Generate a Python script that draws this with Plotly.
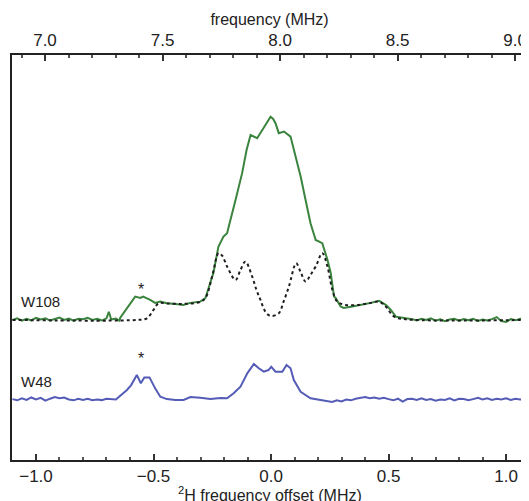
import plotly.graph_objects as go

# W108 experimental spectrum (x: 2H frequency offset MHz, y: normalized intensity)
w108_x = [-1.10, -1.08, -1.06, -1.04, -1.02, -1.00, -0.98, -0.96, -0.94, -0.92, -0.90, -0.88,
          -0.86, -0.84, -0.82, -0.80, -0.78, -0.76, -0.74, -0.72, -0.70, -0.69, -0.68, -0.66,
          -0.645, -0.642, -0.599, -0.578, -0.556, -0.544, -0.514, -0.493, -0.471, -0.443, -0.407,
          -0.373, -0.343, -0.301, -0.279, -0.245, -0.229, -0.224, -0.203, -0.187, -0.151, -0.123,
          -0.104, -0.087, -0.059, -0.038, -0.016, -0.002, 0.009, 0.019, 0.033, 0.055, 0.083,
          0.104, 0.126, 0.147, 0.168, 0.190, 0.218, 0.240, 0.254, 0.268, 0.275, 0.296, 0.309,
          0.346, 0.389, 0.424, 0.460, 0.488, 0.510, 0.531, 0.574, 0.60, 0.62, 0.64, 0.66, 0.68,
          0.70, 0.72, 0.74, 0.76, 0.78, 0.80, 0.82, 0.84, 0.86, 0.88, 0.90, 0.92, 0.94, 0.96,
          0.98, 1.00, 1.02, 1.04, 1.06, 1.08, 1.09]
w108_y = [0.000, 0.008, -0.004, 0.006, -0.002, 0.010, 0.002, 0.008, -0.003, 0.005, 0.012, 0.000,
          0.007, -0.004, 0.006, 0.003, 0.010, 0.000, 0.006, -0.003, 0.008, 0.040, 0.002, 0.007,
          -0.004, 0.010, 0.084, 0.115, 0.108, 0.115, 0.099, 0.084, 0.090, 0.082, 0.079,
          0.074, 0.084, 0.090, 0.108, 0.232, 0.329, 0.360, 0.409, 0.427, 0.591, 0.723,
          0.837, 0.911, 0.895, 0.936, 0.977, 1.001, 0.990, 0.969, 0.920, 0.928, 0.903,
          0.813, 0.706, 0.591, 0.476, 0.394, 0.378, 0.296, 0.232, 0.115, 0.108, 0.066, 0.059,
          0.066, 0.074, 0.084, 0.094, 0.074, 0.049, 0.016, 0.008, 0.004, -0.003, 0.006, 0.000, 0.008,
          -0.004, 0.003, -0.006, 0.002, 0.006, -0.004, 0.004, -0.002, 0.005, -0.005, 0.002, -0.003,
          0.004, 0.014, -0.006, -0.010, 0.004, -0.002, 0.006, 0.000, 0.003]

# W108 simulated spectrum (dotted)
sim_x = [-1.10, -0.571, -0.528, -0.500, -0.478, -0.443, -0.373, -0.301, -0.279, -0.249, -0.223,
         -0.207, -0.187, -0.151, -0.130, -0.109, -0.080, -0.062, -0.045, -0.023, -0.002, 0.033,
         0.053, 0.076, 0.107, 0.126, 0.147, 0.168, 0.190, 0.218, 0.240, 0.261, 0.282, 0.318,
         0.374, 0.424, 0.460, 0.488, 0.524, 0.574, 1.09]
sim_y = [0.000, 0.000, 0.008, 0.049, 0.082, 0.081, 0.079, 0.089, 0.108, 0.222, 0.329,
         0.315, 0.263, 0.197, 0.246, 0.287, 0.213, 0.148, 0.099, 0.039, 0.020, 0.033,
         0.089, 0.164, 0.279, 0.236, 0.189, 0.222, 0.263, 0.329, 0.263, 0.148, 0.090, 0.074,
         0.074, 0.084, 0.090, 0.066, 0.016, 0.003, 0.000]

# W48 experimental spectrum
w48_x = [-1.10, -1.08, -1.06, -1.04, -1.02, -1.00, -0.98, -0.96, -0.94, -0.92, -0.90, -0.88,
         -0.86, -0.84, -0.82, -0.80, -0.78, -0.76, -0.74, -0.72, -0.70, -0.68, -0.66, -0.613,
         -0.595, -0.571, -0.554, -0.539, -0.517, -0.493, -0.471, -0.443, -0.407, -0.372, -0.343,
         -0.301, -0.258, -0.215, -0.187, -0.159, -0.130, -0.101, -0.073, -0.052, -0.031, -0.011,
         0.001, 0.019, 0.048, 0.066, 0.083, 0.097, 0.126, 0.168, 0.203, 0.240, 0.26, 0.28,
         0.30, 0.32, 0.34, 0.36, 0.38, 0.40, 0.42, 0.44, 0.46, 0.48, 0.50, 0.52, 0.54, 0.56,
         0.58, 0.60, 0.62, 0.64, 0.66, 0.68, 0.70, 0.72, 0.74, 0.76, 0.78, 0.80, 0.82, 0.84,
         0.86, 0.88, 0.90, 0.92, 0.94, 0.96, 0.98, 1.00, 1.02, 1.04, 1.06, 1.08, 1.09]
w48_y = [0.002, -0.004, 0.006, -0.002, 0.010, 0.000, 0.008, -0.006, 0.004, 0.012, 0.006, 0.010,
         0.000, -0.004, 0.004, -0.002, 0.003, -0.004, 0.000, -0.003, 0.004, 0.002, 0.000, 0.047,
         0.071, 0.121, 0.080, 0.109, 0.109, 0.055, 0.014, 0.002, -0.002, -0.002, 0.012,
         0.009, 0.002, 0.007, 0.006, 0.031, 0.063, 0.129, 0.175, 0.154, 0.137, 0.145,
         0.161, 0.137, 0.137, 0.170, 0.154, 0.096, 0.038, 0.006, -0.002, -0.011, -0.012, -0.004,
         -0.010, 0.000, -0.004, 0.004, 0.008, 0.012, 0.006, 0.010, 0.004, 0.008, 0.002, -0.004,
         0.004, -0.010, 0.002, 0.004, -0.002, 0.006, -0.002, 0.002, -0.006, 0.000, -0.002, 0.006,
         -0.004, 0.004, 0.002, -0.004, 0.002, 0.008, 0.000, 0.006, -0.002, 0.004, 0.000, 0.006,
         -0.002, 0.004, 0.000, 0.003, -0.001]
w48_offset = -0.392

top_ticks = [7.0, 7.5, 8.0, 8.5, 9.0]
freq_shift = 7.9616
x_range = [-1.102, 1.089]

GREEN = "rgb(58,132,62)"
BLUE = "rgb(84,92,182)"
FONT = "Liberation Sans, Arial, sans-serif"

fig = go.Figure()
fig.add_trace(go.Scatter(x=w108_x, y=w108_y, mode="lines",
                         line=dict(color=GREEN, width=2), hoverinfo="skip", showlegend=False))
fig.add_trace(go.Scatter(x=sim_x, y=sim_y, mode="lines", line_shape="spline",
                         line=dict(color="rgb(30,30,30)", width=2, dash="dot"),
                         hoverinfo="skip", showlegend=False))
fig.add_trace(go.Scatter(x=w48_x, y=[v + w48_offset for v in w48_y], mode="lines",
                         line=dict(color=BLUE, width=2), hoverinfo="skip", showlegend=False))
fig.add_trace(go.Scatter(x=top_ticks, y=[0] * len(top_ticks), xaxis="x2", mode="markers",
                         marker=dict(opacity=0), hoverinfo="skip", showlegend=False))

tick_common = dict(ticks="inside", ticklen=6, tickwidth=2, tickcolor="#333",
                   minor=dict(dtick=0.1, ticks="inside", ticklen=3, tickwidth=1.5, tickcolor="#555"),
                   showline=True, linecolor="#222", linewidth=1.5, showgrid=False, zeroline=False,
                   tickfont=dict(size=17), automargin=False, tickformat=".1f")

# page body adds an 8px margin: figure is sized to fit the 529x501 window
fig.update_layout(
    width=521, height=493,
    margin=dict(l=4, r=2, t=47, b=41, autoexpand=False),
    plot_bgcolor="white", paper_bgcolor="white",
    font=dict(family=FONT, size=16, color="#222"),
    xaxis=dict(range=x_range, tickmode="linear", tick0=-1.0, dtick=0.5, **tick_common),
    xaxis2=dict(overlaying="x", side="top", anchor="y",
                range=[x_range[0] + freq_shift, x_range[1] + freq_shift],
                tickmode="linear", tick0=top_ticks[0], dtick=0.5,
                title=dict(text="frequency (MHz)", font=dict(size=16), standoff=2),
                **tick_common),
    yaxis=dict(range=[-0.690, 1.305], showticklabels=False, ticks="", showgrid=False,
               zeroline=False, showline=True, linecolor="#222", linewidth=1.5, automargin=False),
    shapes=[dict(type="line", xref="paper", yref="paper", x0=1, x1=1, y0=0, y1=1,
                 line=dict(color="#999", width=1.5))],
    annotations=[
        dict(x=0.5, y=0, xref="paper", yref="paper", xanchor="center", yanchor="top",
             yshift=-22, text="<sup>2</sup>H frequency offset (MHz)", showarrow=False,
             font=dict(size=16)),
        dict(x=-1.072, y=0.089, text="W108", showarrow=False, xanchor="left", yanchor="middle",
             font=dict(size=15)),
        dict(x=-1.072, y=-0.305, text="W48", showarrow=False, xanchor="left", yanchor="middle",
             font=dict(size=15)),
        dict(x=-0.552, y=0.150, text="*", showarrow=False, font=dict(size=16)),
        dict(x=-0.552, y=-0.190, text="*", showarrow=False, font=dict(size=16)),
    ],
)

fig.write_html("out.html")
